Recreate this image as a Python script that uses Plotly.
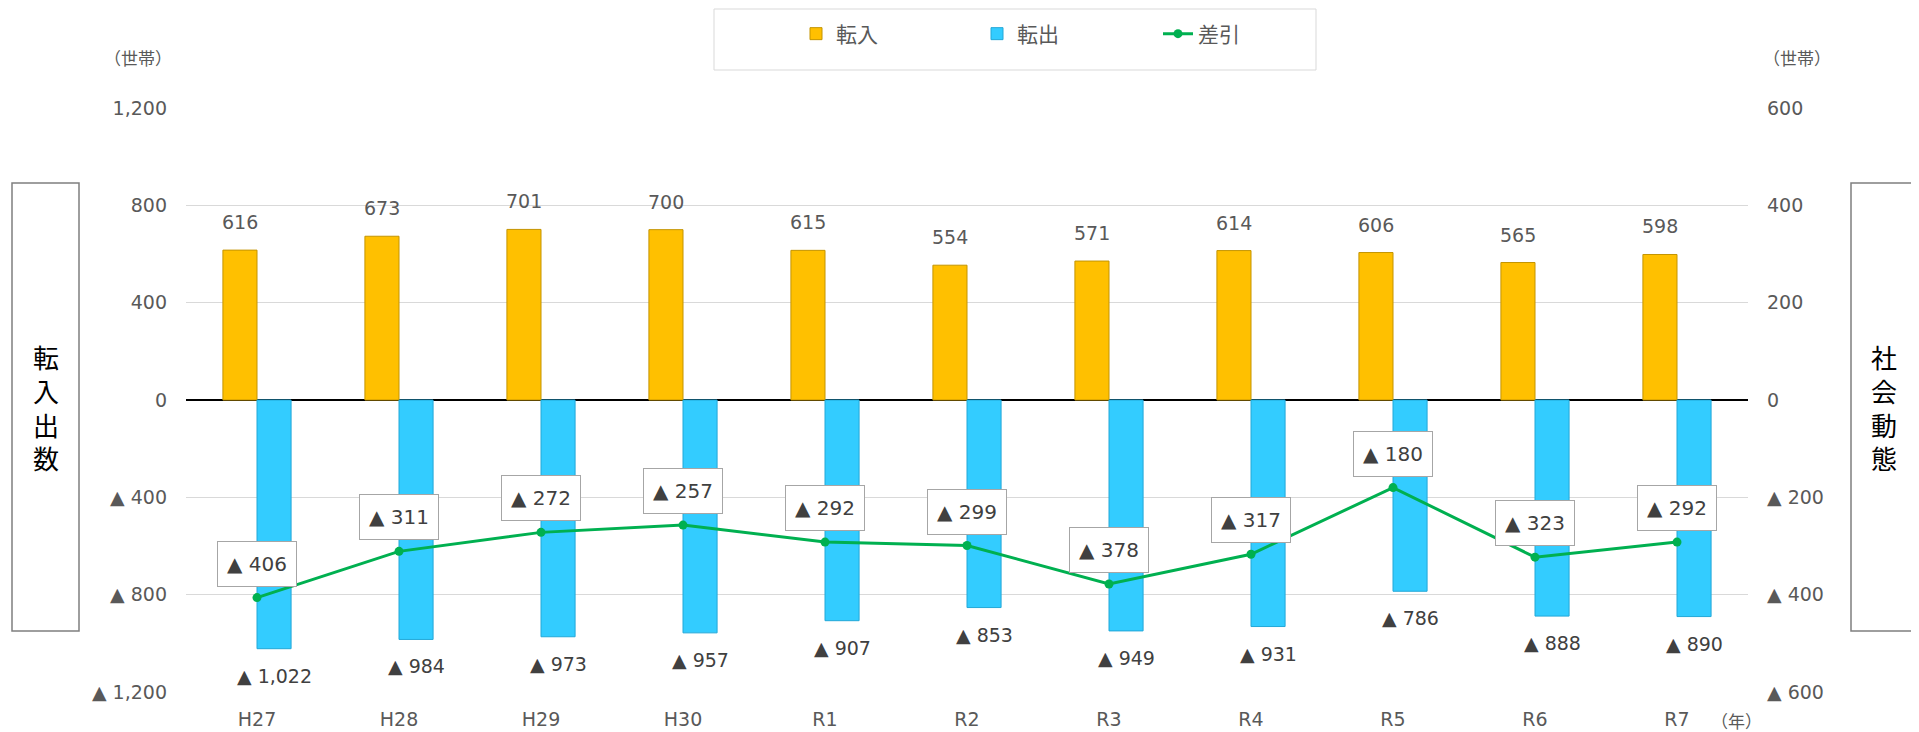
import plotly.graph_objects as go

# ---------------- data ----------------
categories = ["H27", "H28", "H29", "H30", "R1", "R2", "R3", "R4", "R5", "R6", "R7"]
inflow = [616, 673, 701, 700, 615, 554, 571, 614, 606, 565, 598]          # 転入
outflow = [1022, 984, 973, 957, 907, 853, 949, 931, 786, 888, 890]        # 転出 (magnitude)
net = [-406, -311, -272, -257, -292, -299, -378, -317, -180, -323, -292]  # 差引

left_tickvals = [1200, 800, 400, 0, -400, -800, -1200]
left_ticktext = ["1,200", "800", "400", "0", "▲ 400", "▲ 800", "▲ 1,200"]
right_tickvals = [600, 400, 200, 0, -200, -400, -600]
right_ticktext = ["600", "400", "200", "0", "▲ 200", "▲ 400", "▲ 600"]

# ---------------- layout geometry (page pixels) ----------------
PAGE_W, PAGE_H = 1919, 732
BODY = 8                      # default body margin of the html page
W, H = PAGE_W - BODY, PAGE_H - BODY
PL, PR, PT, PB = 186, 1748, 108, 692   # plot area in page pixels


def fx(px):
    return (px - PL) / (PR - PL)


def fy(py):
    return (PB - py) / (PB - PT)


def tri(v):
    return ("▲ " if v < 0 else "") + f"{abs(v):,}"


FONT = "DejaVu Sans, Noto Sans CJK JP, sans-serif"
CJK = "Noto Sans CJK JP, sans-serif"
GRAY = "#595959"

fig = go.Figure()
fig.add_trace(go.Bar(
    x=categories, y=inflow, name="転入", offsetgroup="in",
    marker=dict(color="#FFC000", line=dict(color="#C49400", width=1)),
    hoverinfo="x+y",
))
fig.add_trace(go.Bar(
    x=categories, y=[-v for v in outflow], name="転出", offsetgroup="out",
    marker=dict(color="#33CCFF", line=dict(color="#23A8D8", width=1)),
    hoverinfo="x+y",
))
fig.add_trace(go.Scatter(
    x=categories, y=net, name="差引", yaxis="y2", mode="lines+markers",
    line=dict(color="#00B050", width=3),
    marker=dict(color="#00B050", size=9),
))

annotations = []
BARW = 17
for c, v in zip(categories, inflow):
    annotations.append(dict(x=c, y=v, xref="x", yref="y", text=f"{v:,}", showarrow=False,
                            xshift=-BARW, yshift=28, font=dict(family=FONT, size=19, color=GRAY)))
for c, v in zip(categories, outflow):
    annotations.append(dict(x=c, y=-v, xref="x", yref="y", text=tri(-v), showarrow=False,
                            xshift=BARW, yshift=-27, font=dict(family=FONT, size=19, color="#404040")))
for c, v in zip(categories, net):
    annotations.append(dict(x=c, y=v, xref="x", yref="y2", text=tri(v), showarrow=False,
                            yshift=34, width=74, height=40, bgcolor="white",
                            bordercolor="#A6A6A6", borderwidth=1, borderpad=2,
                            font=dict(family=FONT, size=20, color="#404040")))

# unit labels
for cx, cy, txt in ((138, 57, "（世帯）"), (1797, 57, "（世帯）"), (1736, 720, "（年）")):
    annotations.append(dict(x=fx(cx), y=fy(cy), xref="paper", yref="paper", text=txt,
                            xanchor="center", yanchor="middle", showarrow=False,
                            font=dict(family=CJK, size=17, color=GRAY)))

# vertical boxed titles
for txt, cx in (("転入出数", 45.5), ("社会動態", 1884)):
    annotations.append(dict(x=fx(cx), y=fy(407), xref="paper", yref="paper",
                            xanchor="center", yanchor="middle",
                            text="<br>".join(txt), showarrow=False,
                            font=dict(family=CJK, size=26, color="black")))

shapes = [
    dict(type="rect", xref="paper", yref="paper", x0=fx(12), x1=fx(79), y0=fy(631), y1=fy(183),
         line=dict(color="#7F7F7F", width=1.5), fillcolor="rgba(0,0,0,0)", layer="above"),
    dict(type="rect", xref="paper", yref="paper", x0=fx(1851), x1=fx(1917), y0=fy(631), y1=fy(183),
         line=dict(color="#7F7F7F", width=1.5), fillcolor="rgba(0,0,0,0)", layer="above"),
    # legend frame
    dict(type="rect", xref="paper", yref="paper", x0=fx(714), x1=fx(1316), y0=fy(70), y1=fy(9),
         line=dict(color="#D9D9D9", width=1), fillcolor="rgba(0,0,0,0)", layer="above"),
]

fig.update_layout(
    width=W, height=H,
    margin=dict(l=PL - BODY, r=PAGE_W - PR, t=PT - BODY, b=PAGE_H - PB, autoexpand=False),
    paper_bgcolor="white", plot_bgcolor="white",
    barmode="group", bargap=0.52, bargroupgap=0,
    font=dict(family=FONT, size=19, color=GRAY),
    showlegend=True,
    legend=dict(orientation="h", x=fx(796), y=fy(34), xanchor="left", yanchor="middle",
                bgcolor="rgba(0,0,0,0)", borderwidth=0,
                font=dict(family=CJK, size=21, color=GRAY),
                entrywidth=136, traceorder="normal", itemwidth=30),
    xaxis=dict(type="category", range=[-0.5, len(categories) - 0.5],
               showgrid=False, showline=False, ticks="",
               tickfont=dict(family=FONT, size=19, color=GRAY), ticklabelstandoff=14,
               automargin=False),
    yaxis=dict(range=[-1200, 1200], tickvals=left_tickvals, ticktext=left_ticktext,
               showgrid=True, gridcolor="#D9D9D9", gridwidth=1,
               zeroline=True, zerolinecolor="black", zerolinewidth=2,
               showline=False, ticks="", ticklabelstandoff=18, automargin=False,
               tickfont=dict(family=FONT, size=19, color=GRAY)),
    yaxis2=dict(range=[-600, 600], overlaying="y", side="right", tickvals=right_tickvals,
                ticktext=right_ticktext, showgrid=False, zeroline=False, showline=False,
                ticks="", ticklabelstandoff=18, automargin=False,
                tickfont=dict(family=FONT, size=19, color=GRAY)),
    annotations=annotations,
    shapes=shapes,
)

fig.write_html("out.html")
